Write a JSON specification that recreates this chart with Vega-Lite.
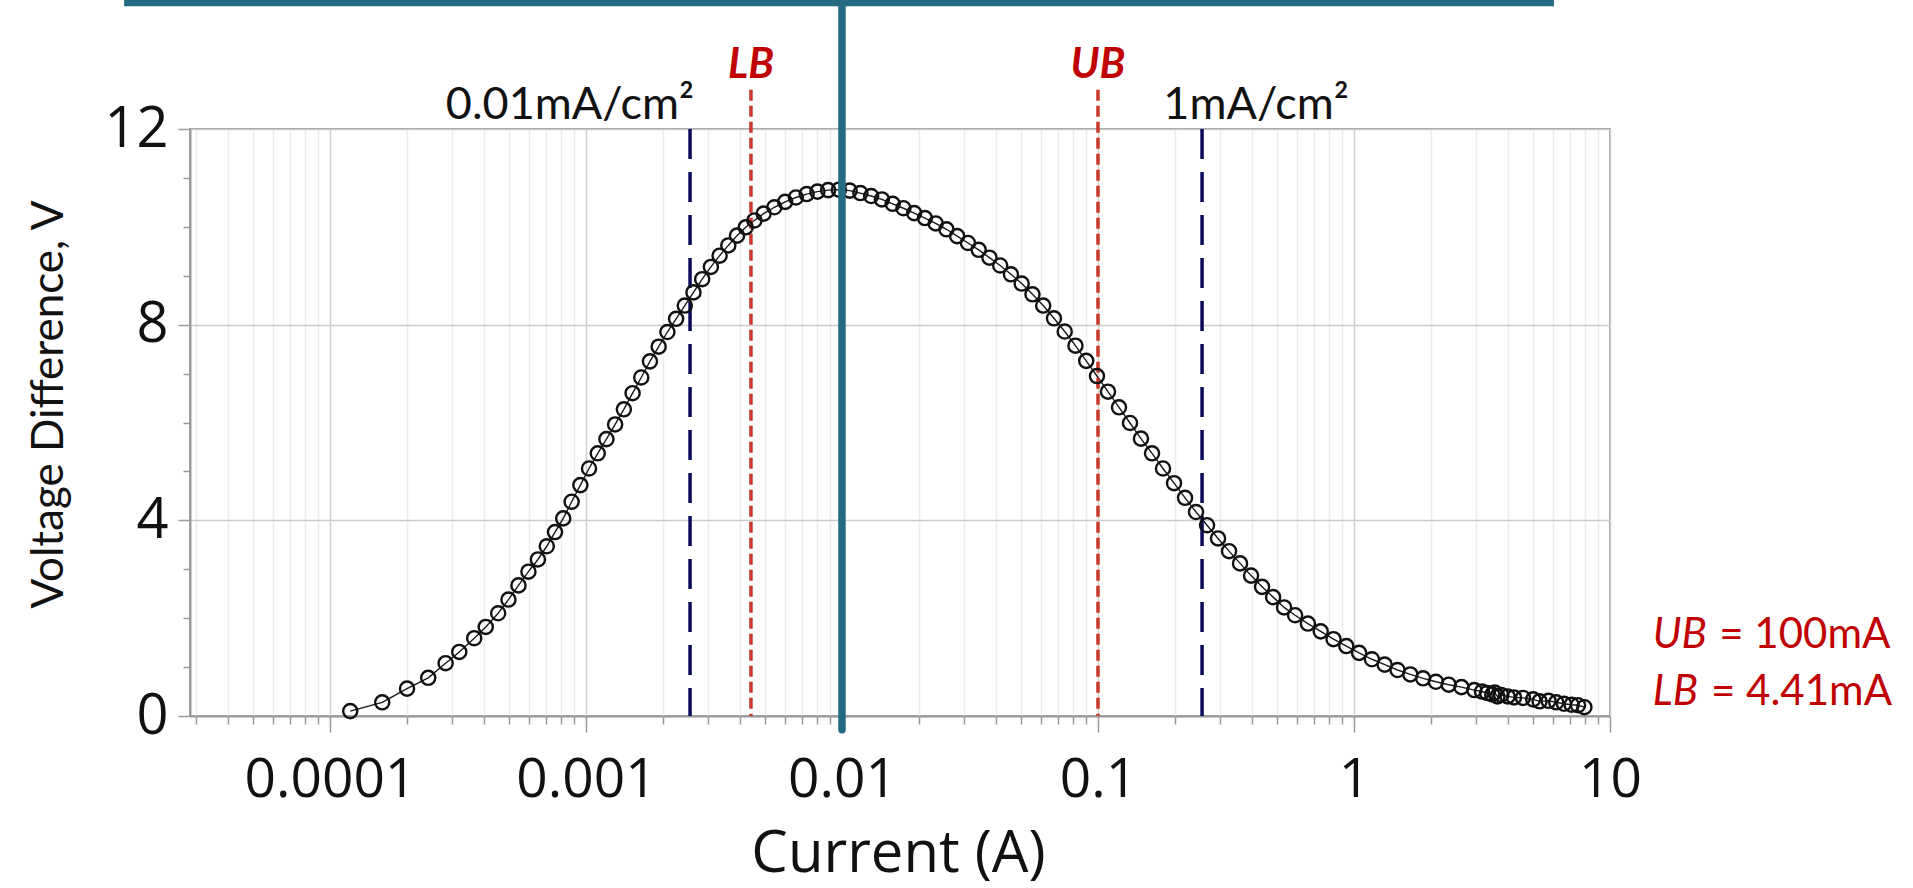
{
  "$schema": "https://vega.github.io/schema/vega-lite/v6.json",
  "width": 1420,
  "height": 587,
  "autosize": {"type": "none"},
  "padding": {"left": 190, "top": 129, "right": 303, "bottom": 172},
  "background": "white",
  "config": {"view": {"stroke": "#a0a0a0", "strokeWidth": 2}},
  "datasets": {
    "curve": [
      {"current": 0.00012, "voltage": 0.10}, {"current": 0.00016, "voltage": 0.28}, {"current": 0.0002, "voltage": 0.56},
      {"current": 0.000242, "voltage": 0.78}, {"current": 0.000283, "voltage": 1.08}, {"current": 0.00032, "voltage": 1.31},
      {"current": 0.000366, "voltage": 1.59}, {"current": 0.000406, "voltage": 1.82}, {"current": 0.000454, "voltage": 2.10},
      {"current": 0.000498, "voltage": 2.38}, {"current": 0.000545, "voltage": 2.67}, {"current": 0.000596, "voltage": 2.95},
      {"current": 0.000649, "voltage": 3.20}, {"current": 0.000703, "voltage": 3.47}, {"current": 0.000757, "voltage": 3.76},
      {"current": 0.000815, "voltage": 4.04}, {"current": 0.000879, "voltage": 4.38}, {"current": 0.000951, "voltage": 4.72},
      {"current": 0.001028, "voltage": 5.06}, {"current": 0.001112, "voltage": 5.37}, {"current": 0.001202, "voltage": 5.66},
      {"current": 0.0013, "voltage": 5.96}, {"current": 0.001406, "voltage": 6.27}, {"current": 0.001521, "voltage": 6.60},
      {"current": 0.001644, "voltage": 6.92}, {"current": 0.001778, "voltage": 7.25}, {"current": 0.001923, "voltage": 7.55},
      {"current": 0.00208, "voltage": 7.85}, {"current": 0.002249, "voltage": 8.12}, {"current": 0.002432, "voltage": 8.39},
      {"current": 0.00263, "voltage": 8.66}, {"current": 0.002844, "voltage": 8.93}, {"current": 0.003076, "voltage": 9.18},
      {"current": 0.003327, "voltage": 9.41}, {"current": 0.003597, "voltage": 9.62}, {"current": 0.00389, "voltage": 9.82},
      {"current": 0.004207, "voltage": 9.99}, {"current": 0.00455, "voltage": 10.13}, {"current": 0.004943, "voltage": 10.27},
      {"current": 0.005445, "voltage": 10.40}, {"current": 0.005998, "voltage": 10.51}, {"current": 0.006607, "voltage": 10.60},
      {"current": 0.007278, "voltage": 10.67}, {"current": 0.008017, "voltage": 10.72}, {"current": 0.008831, "voltage": 10.75},
      {"current": 0.009727, "voltage": 10.76}, {"current": 0.010715, "voltage": 10.74}, {"current": 0.0118, "voltage": 10.69},
      {"current": 0.013, "voltage": 10.63}, {"current": 0.01432, "voltage": 10.56}, {"current": 0.01578, "voltage": 10.47},
      {"current": 0.01738, "voltage": 10.38}, {"current": 0.01914, "voltage": 10.28}, {"current": 0.02109, "voltage": 10.18},
      {"current": 0.02323, "voltage": 10.07}, {"current": 0.02559, "voltage": 9.95}, {"current": 0.02818, "voltage": 9.81},
      {"current": 0.03105, "voltage": 9.67}, {"current": 0.0342, "voltage": 9.53}, {"current": 0.03767, "voltage": 9.37},
      {"current": 0.0415, "voltage": 9.21}, {"current": 0.04571, "voltage": 9.03}, {"current": 0.05035, "voltage": 8.84},
      {"current": 0.05546, "voltage": 8.62}, {"current": 0.06109, "voltage": 8.39}, {"current": 0.0673, "voltage": 8.13},
      {"current": 0.07413, "voltage": 7.86}, {"current": 0.08166, "voltage": 7.57}, {"current": 0.08995, "voltage": 7.26},
      {"current": 0.09908, "voltage": 6.95}, {"current": 0.1094, "voltage": 6.63}, {"current": 0.1208, "voltage": 6.31},
      {"current": 0.1334, "voltage": 5.99}, {"current": 0.1472, "voltage": 5.67}, {"current": 0.1626, "voltage": 5.37},
      {"current": 0.1795, "voltage": 5.06}, {"current": 0.1982, "voltage": 4.76}, {"current": 0.2188, "voltage": 4.46},
      {"current": 0.2415, "voltage": 4.17}, {"current": 0.2667, "voltage": 3.90}, {"current": 0.2944, "voltage": 3.63},
      {"current": 0.3251, "voltage": 3.37}, {"current": 0.3589, "voltage": 3.12}, {"current": 0.3963, "voltage": 2.87},
      {"current": 0.4375, "voltage": 2.64}, {"current": 0.4831, "voltage": 2.43}, {"current": 0.5333, "voltage": 2.22},
      {"current": 0.5888, "voltage": 2.06}, {"current": 0.6607, "voltage": 1.89}, {"current": 0.7413, "voltage": 1.73},
      {"current": 0.8318, "voltage": 1.57}, {"current": 0.9333, "voltage": 1.43}, {"current": 1.047, "voltage": 1.29},
      {"current": 1.175, "voltage": 1.16}, {"current": 1.318, "voltage": 1.05}, {"current": 1.479, "voltage": 0.94},
      {"current": 1.66, "voltage": 0.85}, {"current": 1.862, "voltage": 0.77}, {"current": 2.089, "voltage": 0.70},
      {"current": 2.344, "voltage": 0.64}, {"current": 2.63, "voltage": 0.59}, {"current": 2.951, "voltage": 0.53},
      {"current": 3.162, "voltage": 0.50}, {"current": 3.311, "voltage": 0.47}, {"current": 3.467, "voltage": 0.44},
      {"current": 3.548, "voltage": 0.48}, {"current": 3.631, "voltage": 0.40}, {"current": 3.758, "voltage": 0.43},
      {"current": 3.981, "voltage": 0.40}, {"current": 4.217, "voltage": 0.38}, {"current": 4.571, "voltage": 0.37},
      {"current": 5.012, "voltage": 0.34}, {"current": 5.309, "voltage": 0.30}, {"current": 5.754, "voltage": 0.31},
      {"current": 6.166, "voltage": 0.28}, {"current": 6.607, "voltage": 0.25}, {"current": 7.079, "voltage": 0.23},
      {"current": 7.499, "voltage": 0.22}, {"current": 7.943, "voltage": 0.18}
    ]
  },
  "layer": [
    {
      "data": {"name": "curve"},
      "mark": {"type": "line", "color": "#1a1a1a", "strokeWidth": 1.4},
      "encoding": {
        "x": {
          "field": "current", "type": "quantitative",
          "scale": {"type": "log", "domain": [0.0000284, 10], "nice": false},
          "axis": {
            "values": [0.00003, 0.00004, 0.00005, 0.00006, 0.00007, 0.00008, 0.00009,
                       0.0001, 0.0002, 0.0003, 0.0004, 0.0005, 0.0006, 0.0007, 0.0008, 0.0009,
                       0.001, 0.002, 0.003, 0.004, 0.005, 0.006, 0.007, 0.008, 0.009,
                       0.01, 0.02, 0.03, 0.04, 0.05, 0.06, 0.07, 0.08, 0.09,
                       0.1, 0.2, 0.3, 0.4, 0.5, 0.6, 0.7, 0.8, 0.9,
                       1, 2, 3, 4, 5, 6, 7, 8, 9, 10],
            "format": ".4~f",
            "labelExpr": "indexof([0.0001, 0.001, 0.01, 0.1, 1, 10], datum.value) >= 0 ? datum.label : ''",
            "labelFont": "Open Sans", "labelFontSize": 55, "labelColor": "#111111",
            "labelPadding": 21, "labelFlush": false, "labelOverlap": false,
            "tickColor": "#9a9a9a", "tickWidth": 1.5,
            "tickSize": {"condition": {"test": "indexof([0.0001, 0.001, 0.01, 0.1, 1, 10], datum.value) >= 0", "value": 16}, "value": 8},
            "domainColor": "#9a9a9a", "domainWidth": 2,
            "grid": true,
            "gridColor": {"condition": {"test": "indexof([0.0001, 0.001, 0.01, 0.1, 1, 10], datum.value) >= 0", "value": "#d0d0d0"}, "value": "#ececec"},
            "gridWidth": 1.5,
            "title": "Current (A)", "titleFont": "Open Sans", "titleFontSize": 58, "titleFontWeight": "normal",
            "titleColor": "#111111", "titleX": 708, "titleY": 138, "titleBaseline": "middle", "titleAlign": "center"
          }
        },
        "y": {
          "field": "voltage", "type": "quantitative",
          "scale": {"domain": [0, 12], "nice": false, "zero": false},
          "axis": {
            "values": [0, 1, 2, 3, 4, 5, 6, 7, 8, 9, 10, 11, 12],
            "labelExpr": "datum.value % 4 == 0 ? datum.label : ''",
            "labelFont": "Open Sans", "labelFontSize": 56, "labelColor": "#111111",
            "labelPadding": 10, "labelOverlap": false, "labelFlush": false,
            "tickColor": "#9a9a9a", "tickWidth": 1.5,
            "tickSize": {"condition": {"test": "datum.value % 4 == 0", "value": 12}, "value": 7},
            "domainColor": "#9a9a9a", "domainWidth": 2,
            "grid": true,
            "gridColor": {"condition": {"test": "datum.value % 4 == 0", "value": "#cccccc"}, "value": "rgba(0,0,0,0)"},
            "gridWidth": 1.5,
            "title": "Voltage Difference, V", "titleFont": "Lato", "titleFontSize": 44, "titleFontWeight": "normal",
            "titleColor": "#111111", "titleX": -141, "titleY": 275, "titleAngle": -90,
            "titleBaseline": "middle", "titleAlign": "center"
          }
        }
      }
    },
    {
      "data": {"values": [
        {"current": 0.00255, "top": 12, "bottom": 0},
        {"current": 0.255, "top": 12, "bottom": 0}
      ]},
      "mark": {"type": "rule", "color": "#0b0b5c", "strokeWidth": 3.5, "strokeDash": [30, 13]},
      "encoding": {
        "x": {"field": "current", "type": "quantitative"},
        "y": {"field": "top", "type": "quantitative"},
        "y2": {"field": "bottom"}
      }
    },
    {
      "data": {"values": [
        {"current": 0.00441, "top": 12.8, "bottom": 0},
        {"current": 0.1, "top": 12.8, "bottom": 0}
      ]},
      "mark": {"type": "rule", "color": "#c8392b", "strokeWidth": 3.5, "strokeDash": [11, 5]},
      "encoding": {
        "x": {"field": "current", "type": "quantitative"},
        "y": {"field": "top", "type": "quantitative"},
        "y2": {"field": "bottom"}
      }
    },
    {
      "data": {"name": "curve"},
      "mark": {"type": "point", "shape": "circle", "filled": false, "stroke": "#111111", "strokeWidth": 2.4, "size": 200, "opacity": 1},
      "encoding": {
        "x": {"field": "current", "type": "quantitative"},
        "y": {"field": "voltage", "type": "quantitative"}
      }
    },
    {
      "data": {"values": [{"current": 0.01, "top": 14.65, "bottom": -0.28}]},
      "mark": {"type": "rule", "color": "#246a83", "strokeWidth": 7.5, "strokeCap": "round"},
      "encoding": {
        "x": {"field": "current", "type": "quantitative"},
        "y": {"field": "top", "type": "quantitative"},
        "y2": {"field": "bottom"}
      }
    },
    {
      "data": {"values": [{"start": 0.0000157, "end": 6.04, "level": 14.58}]},
      "mark": {"type": "rule", "color": "#246a83", "strokeWidth": 7},
      "encoding": {
        "x": {"field": "start", "type": "quantitative"},
        "x2": {"field": "end"},
        "y": {"field": "level", "type": "quantitative"}
      }
    },
    {
      "data": {"values": [{"current": 0.00255, "v": 12.2, "label": "0.01mA/cm²"}]},
      "mark": {"type": "text", "align": "right", "baseline": "alphabetic", "font": "Lato", "fontSize": 45, "color": "#111111", "dx": 4},
      "encoding": {
        "x": {"field": "current", "type": "quantitative"},
        "y": {"field": "v", "type": "quantitative"},
        "text": {"field": "label"}
      }
    },
    {
      "data": {"values": [{"current": 0.18, "v": 12.2, "label": "1mA/cm²"}]},
      "mark": {"type": "text", "align": "left", "baseline": "alphabetic", "font": "Lato", "fontSize": 45, "color": "#111111"},
      "encoding": {
        "x": {"field": "current", "type": "quantitative"},
        "y": {"field": "v", "type": "quantitative"},
        "text": {"field": "label"}
      }
    },
    {
      "data": {"values": [
        {"current": 0.00441, "v": 13.05, "label": "LB"},
        {"current": 0.1, "v": 13.05, "label": "UB"}
      ]},
      "mark": {"type": "text", "align": "center", "baseline": "alphabetic", "font": "Lato", "fontSize": 42, "fontWeight": "bold", "fontStyle": "italic", "color": "#c00000"},
      "encoding": {
        "x": {"field": "current", "type": "quantitative"},
        "y": {"field": "v", "type": "quantitative"},
        "text": {"field": "label"}
      }
    },
    {
      "data": {"values": [
        {"current": 14.7, "v": 1.4, "label": "UB"},
        {"current": 14.7, "v": 0.22, "label": "LB"}
      ]},
      "mark": {"type": "text", "align": "left", "baseline": "alphabetic", "font": "Lato", "fontSize": 42, "fontStyle": "italic", "color": "#c00000"},
      "encoding": {
        "x": {"field": "current", "type": "quantitative"},
        "y": {"field": "v", "type": "quantitative"},
        "text": {"field": "label"}
      }
    },
    {
      "data": {"values": [
        {"current": 26.7, "v": 1.4, "label": "= 100mA"},
        {"current": 24.8, "v": 0.22, "label": "= 4.41mA"}
      ]},
      "mark": {"type": "text", "align": "left", "baseline": "alphabetic", "font": "Lato", "fontSize": 42, "color": "#c00000"},
      "encoding": {
        "x": {"field": "current", "type": "quantitative"},
        "y": {"field": "v", "type": "quantitative"},
        "text": {"field": "label"}
      }
    }
  ]
}
